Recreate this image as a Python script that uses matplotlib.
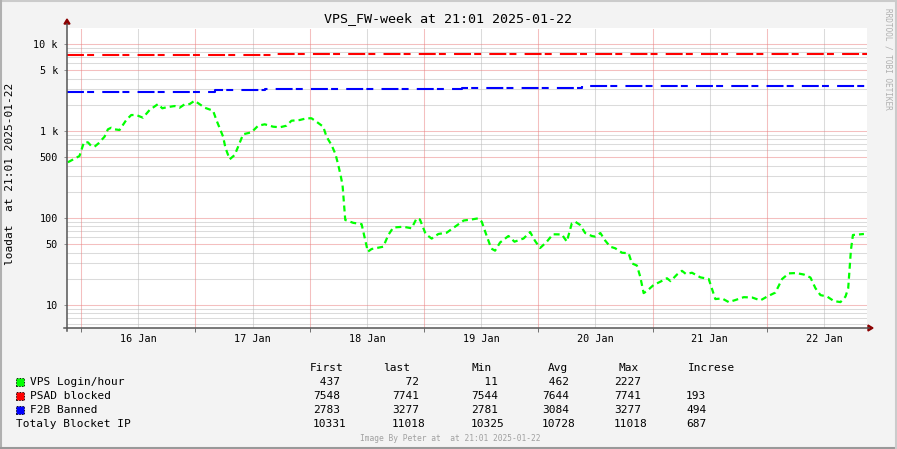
import matplotlib
matplotlib.use("Agg")
import matplotlib.pyplot as plt
from matplotlib.lines import Line2D
from matplotlib.patches import Rectangle, Polygon

# ---------------- data ----------------
# time axis: hours since 2025-01-16 00:00
t_start = -(2 + 59 / 60)          # 2025-01-15 21:01
t_end = t_start + 7 * 24          # 2025-01-22 21:01

day_labels = ["16 Jan", "17 Jan", "18 Jan", "19 Jan", "20 Jan", "21 Jan", "22 Jan"]
day_label_hours = [12, 36, 60, 84, 108, 132, 156]
midnight_hours = [0, 24, 48, 72, 96, 120, 144]

login_t = [-2.8, -0.36, 0.57, 1.41, 2.10, 2.80, 3.64, 4.90, 5.61, 6.31,
           7.00, 8.05, 9.46, 10.51, 11.56, 12.97, 14.36, 16.13, 17.03, 17.87,
           19.62, 20.67, 21.72, 22.77, 23.82, 25.93, 27.69, 28.39, 29.08, 29.80,
           30.28, 31.18, 32.23, 32.95, 34.00, 35.75, 37.16, 38.54, 40.31, 41.70,
           43.11, 44.16, 45.90, 47.31, 48.36, 49.41, 50.82, 51.52, 52.57, 53.41,
           53.98, 54.46, 54.88, 55.15, 55.45, 57.13, 58.88, 59.57, 60.20, 60.98,
           63.44, 64.49, 65.54, 67.64, 69.39, 70.44, 71.13, 72.33, 73.59, 75.00,
           76.75, 78.50, 80.32, 82.0, 83.41, 84.11, 85.16, 86.11, 86.91, 87.96,
           89.72, 90.99, 92.88, 94.27, 95.32, 96.37, 97.78, 99.04, 100.93, 101.98,
           103.03, 103.73, 104.78, 105.83, 107.24, 107.93, 109.03, 110.03, 111.09, 112.14,
           113.55, 114.96, 115.65, 116.70, 117.40, 118.11, 118.81, 120.21, 121.60, 123.0,
           123.78, 125.11, 126.16, 127.0, 128.26, 130.01, 131.78, 132.47, 133.17, 134.58,
           135.98, 137.37, 139.14, 140.88, 142.63, 144.04, 145.78, 147.19, 148.60, 150.13,
           151.75, 153.14, 154.19, 155.24, 156.65, 158.06, 159.45, 160.50, 161.07, 161.34,
           161.64, 162.06, 164.37]
login_v = [437, 516, 741, 741, 673, 660, 722, 860, 1046, 1091,
           1046, 1027, 1338, 1527, 1527, 1422, 1743, 2042, 1824, 1872,
           1937, 1853, 2027, 2042, 2227, 1853, 1712, 1338, 1074, 860,
           643, 473, 530, 660, 917, 966, 1151, 1194, 1121, 1103,
           1151, 1313, 1338, 1400, 1400, 1279, 1121, 860, 690, 540,
           407, 312, 239, 154, 95, 88, 85, 58, 41, 44,
           46.8, 63.8, 77.8, 79.3, 76.2, 99.2, 96.2, 65.5, 58.0, 65.5,
           67.8, 79.3, 93.6, 96.2, 99.2, 90.7, 62.1, 44.6, 42.1, 52.3,
           62.1, 53.4, 58.1, 69.0, 54.4, 45.2, 53.4, 65.0, 64.7, 53.6,
           86.9, 90.7, 83.1, 67.2, 62.1, 61.1, 67.2, 55.1, 46.8, 44.9,
           39.9, 39.3, 30.1, 28.4, 21.1, 13.7, 14.5, 17.0, 18.5, 20.3,
           18.8, 22.4, 24.7, 22.7, 23.5, 20.8, 19.9, 15.3, 11.7, 11.9,
           10.8, 11.4, 12.3, 12.2, 11.3, 12.5, 13.9, 19.9, 23.1, 23.3,
           22.4, 20.7, 15.6, 13.0, 12.5, 11.1, 10.8, 12.5, 15.6, 25.6,
           42.9, 63.8, 65.5]

psad_t = [t_start, 40.0, 90.4, 93.6, 119.8, t_end]
psad_v = [7548, 7580, 7720, 7610, 7741, 7741]

f2b_t = [t_start, 4.8, 28.0, 38.5, 57.4, 79.9, 105.1, t_end]
f2b_v = [2783, 2830, 2930, 3000, 3060, 3150, 3277, 3277]

y_tick_values = [10, 50, 100, 500, 1000, 5000, 10000]
y_tick_labels = ["10", "50", "100", "500", "1 k", "5 k", "10 k"]

legend_names = ["VPS Login/hour", "PSAD blocked", "F2B Banned", "Totaly Blocket IP"]
legend_colors = ["#00FF00", "#FF0000", "#0000FF", None]
col_headers = ["First", "last", "Min", "Avg", "Max", "Increse"]
stat_first = [437, 7548, 2783, 10331]
stat_last = [72, 7741, 3277, 11018]
stat_min = [11, 7544, 2781, 10325]
stat_avg = [462, 7644, 3084, 10728]
stat_max = [2227, 7741, 3277, 11018]
stat_inc = [None, 193, 494, 687]

title = "VPS_FW-week at 21:01 2025-01-22"
ylabel = "loadat  at 21:01 2025-01-22"
footer = "Image By Peter at  at 21:01 2025-01-22"
side_text = "RRDTOOL / TOBI OETIKER"

# ---------------- figure ----------------
W, H = 897, 449
MONO = "DejaVu Sans Mono"
plt.rcParams["lines.scale_dashes"] = False

fig = plt.figure(figsize=(W / 100, H / 100), dpi=100)
fig.patch.set_facecolor("#F3F3F3")


def fx(x):
    return x / W


def fy(y):
    return 1 - y / H


L, R, T, B = 67, 867, 28, 328
ax = fig.add_axes([fx(L), fy(B), (R - L) / W, (B - T) / H])
ax.set_facecolor("white")
ax.set_yscale("log")
ax.set_xlim(t_start, t_end)
ax.set_ylim(5.44, 15277)

# grid (dotted lines)
minor_col = "#B8B8B8"
major_col = "#EA8080"
dot = (0, (0.72, 0.72))
gkw = dict(lw=0.75, ls=dot)
for dec in [1, 10, 100, 1000]:
    for m in range(2, 10):
        v = dec * m
        if 5.44 < v < 15277 and m != 5:
            ax.axhline(v, color=minor_col, zorder=1, **gkw)
for dec in [10, 100, 1000, 10000]:
    for v in (dec, dec * 5):
        if 5.44 < v < 15277:
            ax.axhline(v, color=major_col, zorder=1.5, **gkw)
for h in day_label_hours:
    ax.axvline(h, color=minor_col, zorder=1, **gkw)
for h in midnight_hours:
    ax.axvline(h, color=major_col, zorder=1.5, **gkw)

# data lines
ax.plot(psad_t, psad_v, drawstyle="steps-post", color="#FF0000", lw=1.5,
        dashes=(12.2, 2.3, 5.0, 5.9), zorder=3)
ax.plot(f2b_t, f2b_v, drawstyle="steps-post", color="#0000FF", lw=1.5,
        dashes=(12.2, 2.3, 5.0, 5.9), zorder=3)
ax.plot(login_t, login_v, color="#00FF00", lw=1.6, dashes=(4.3, 2.9), zorder=3)

# axes styling
for s in ["top", "right", "left", "bottom"]:
    ax.spines[s].set_visible(False)
ax.set_yticks(y_tick_values)
ax.set_yticklabels(y_tick_labels, fontfamily=MONO, fontsize=7.3)
ax.yaxis.set_minor_locator(matplotlib.ticker.NullLocator())
ax.tick_params(axis="y", length=2, width=0.7, color="#909090", pad=4.5)
ax.set_xticks(day_label_hours)
ax.set_xticklabels(day_labels, fontfamily=MONO, fontsize=7.3)
ax.tick_params(axis="x", length=0, pad=4.5)
ax.set_xticks(midnight_hours, minor=True)
ax.tick_params(axis="x", which="minor", length=3, width=0.7, color="#707070")

# axis lines + arrows (figure pixel coordinates)
axis_col = "#555555"
fig.add_artist(Line2D([fx(L), fx(L)], [fy(B + 3), fy(T - 4)], color=axis_col, lw=1.1))
fig.add_artist(Line2D([fx(L - 3), fx(R + 2)], [fy(B), fy(B)], color=axis_col, lw=1.1))
arrow_col = "#8B0000"
fig.add_artist(Polygon([[fx(L - 3), fy(T - 4)], [fx(L + 3), fy(T - 4)], [fx(L), fy(T - 9)]],
                       closed=True, color=arrow_col, transform=fig.transFigure))
fig.add_artist(Polygon([[fx(R + 1), fy(B - 3)], [fx(R + 1), fy(B + 3)], [fx(R + 6), fy(B)]],
                       closed=True, color=arrow_col, transform=fig.transFigure))

# texts
fig.text(fx(448), fy(19), title, ha="center", va="center", fontfamily=MONO, fontsize=9.6)
fig.text(fx(10), fy(174), ylabel, ha="center", va="center", rotation=90,
         fontfamily=MONO, fontsize=8)
fig.text(fx(888), fy(59), side_text, ha="center", va="center", rotation=270,
         fontfamily=MONO, fontsize=5.6, color="#B0B0B0")
fig.text(fx(450), fy(438.5), footer, ha="center", va="center",
         fontfamily=MONO, fontsize=5.7, color="#A0A0A0")

# legend
row_y = [382, 396, 410, 424]
head_y = 368
head_x = [310, 383, 471, 548, 618, 688]
col_x = [313, 392, 471, 542, 614, 686]
for hx, hd in zip(head_x, col_headers):
    fig.text(fx(hx), fy(head_y), hd, ha="left", va="center", fontfamily=MONO, fontsize=8)
stats = [stat_first, stat_last, stat_min, stat_avg, stat_max, stat_inc]
for i, (name, col) in enumerate(zip(legend_names, legend_colors)):
    y = row_y[i]
    if col is not None:
        fig.add_artist(Rectangle((fx(15.5), fy(y + 4)), 8 / W, 8 / H, facecolor=col,
                                 edgecolor="black", lw=0.6, ls=(0, (1, 1)),
                                 transform=fig.transFigure))
        fig.text(fx(30), fy(y), name, ha="left", va="center", fontfamily=MONO, fontsize=8)
    else:
        fig.text(fx(16), fy(y), name, ha="left", va="center", fontfamily=MONO, fontsize=8)
    for cx, st in zip(col_x, stats):
        v = st[i]
        if v is None:
            continue
        s = f"{v:>4}" if st is not stat_inc else f"{v}"
        fig.text(fx(cx), fy(y), s, ha="left", va="center", fontfamily=MONO, fontsize=8)

# frame
fig.add_artist(Line2D([0, 1], [fy(0.5), fy(0.5)], color="#CBCBCB", lw=1.5))
fig.add_artist(Line2D([fx(0.5), fx(0.5)], [0, 1], color="#B0B0B0", lw=1.5))
fig.add_artist(Line2D([0, 1], [fy(H - 1), fy(H - 1)], color="#999999", lw=1.5))
fig.add_artist(Line2D([fx(W - 1), fx(W - 1)], [0, 1], color="#CBCBCB", lw=1.5))

fig.savefig("out.png", dpi=100, facecolor=fig.get_facecolor())
